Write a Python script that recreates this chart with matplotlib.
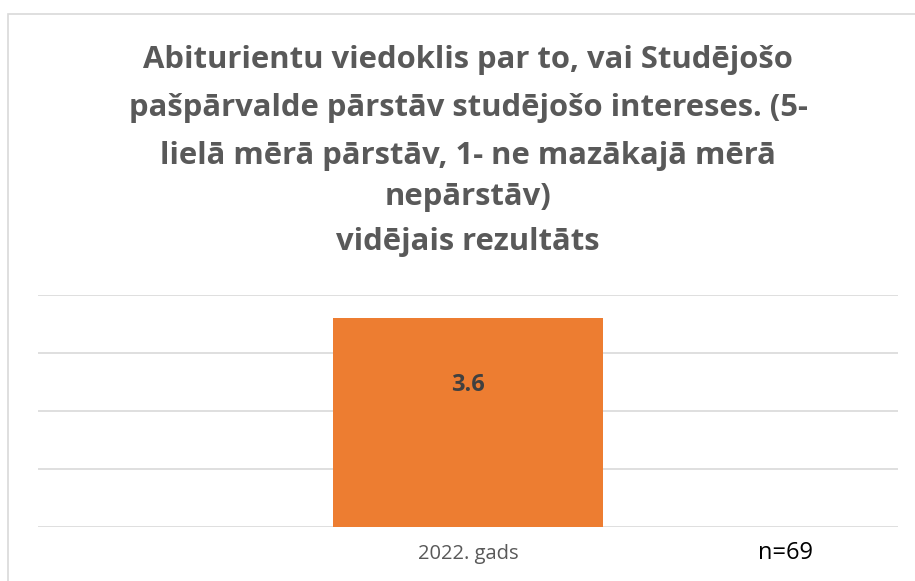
import matplotlib.pyplot as plt
from matplotlib.patches import Rectangle

# data
categories = ['2022. gads']
values = [3.6]
title_lines = ['Abiturientu viedoklis par to, vai Studējošo',
               'pašpārvalde pārstāv studējošo intereses. (5-',
               'lielā mērā pārstāv, 1- ne mazākajā mērā',
               'nepārstāv)',
               'vidējais rezultāts']
note = 'n=69'

plt.rcParams['font.family'] = ['Open Sans', 'DejaVu Sans']

fig = plt.figure(figsize=(9.15, 5.81), dpi=100)
W, H = 915, 581

# chart border
fig.patches.append(Rectangle((8 / W, -0.01), 1.0, 1 - 14 / H + 0.01,
                             transform=fig.transFigure, fill=False,
                             edgecolor='#d9d9d9', linewidth=1.2))

ax = fig.add_axes([38 / W, (H - 527) / H, 860 / W, 232 / H])
x = list(range(len(categories)))
bars = ax.bar(x, values, width=0.313, color='#ed7d31', zorder=3)
ax.set_xlim(-0.5, 0.5)
ax.set_ylim(0, 4)
ax.set_yticks([0, 1, 2, 3, 4])
ax.yaxis.grid(True, color='#d9d9d9', linewidth=1.2, zorder=0)
ax.tick_params(axis='y', left=False, labelleft=False)
ax.tick_params(axis='x', bottom=False, labelsize=14.5, labelcolor='#595959', pad=9)
ax.set_xticks(x)
ax.set_xticklabels(categories)
for s in ax.spines.values():
    s.set_visible(False)

for b, v in zip(bars, values):
    ax.text(b.get_x() + b.get_width() / 2, v - 1.15, f'{v:.1f}', ha='center', va='center',
            fontsize=17, fontweight='bold', color='#404040')

# title lines
ys = [60, 108, 156, 197, 242]
for line, y in zip(title_lines, ys):
    fig.text(468 / W, 1 - y / H, line, ha='center', va='center',
             fontsize=22.3, fontweight='bold', color='#595959')

fig.text(785 / W, 1 - 553 / H, note, ha='center', va='center', fontsize=17, color='black')

fig.savefig('out.png', dpi=100)
